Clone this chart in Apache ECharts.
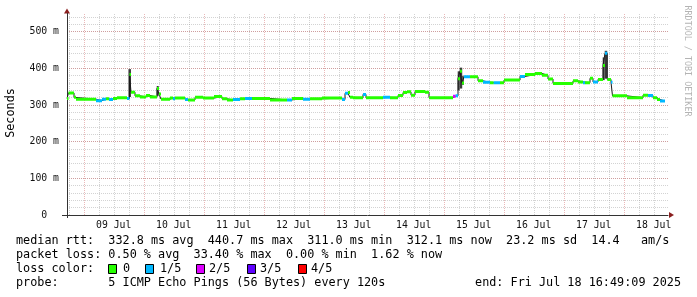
<!DOCTYPE html>
<html><head><meta charset="utf-8">
<script src="https://cdn.jsdelivr.net/npm/echarts@6/dist/echarts.min.js"></script>
<style>html,body{margin:0;padding:0;background:#fff}#c{width:697px;height:297px}</style>
</head><body><div id="c"></div>
<script>
// x values: hours since 2025-07-08 00:00 (start of each median step)
const stepHours = [17.32,17.92,20.12,20.92,28.92,31.32,32.92,34.12,35.72,37.32,
  41.32,42.32,42.92,44.52,46.52,48.92,50.52,53.32,54.12,54.92,
  58.52,59.72,60.52,64.52,65.72,68.52,71.72,76.12,79.32,81.32,
  83.72,86.52,88.52,91.32,98.52,105.32,107.32,111.72,114.52,119.32,
  127.32,128.52,129.72,130.52,131.72,135.72,136.92,143.72,146.52,149.72,
  151.72,153.32,154.92,156.52,160.52,162.12,171.72,172.72,173.72,174.52,
  175.32,176.12,178.5,181.72,183.72,186.5,188.0,190.52,192.12,198.52,
  200.52,204.52,207.32,209.72,211.72,219.72,221.72,223.72,224.5,226.52,
  227.72,229.72,231.72,232.52,233.44,234.92,235.52,241.32,247.72,249.72,
  251.72,253.32,254.52];
const endHour = 256.52;
// median rtt in ms
const medianMs = [318,333,321,316,312,316,317,315,318,320,
  318,383,335,325,322,326,322,345,330,316,
  319,317,319,315,314,321,319,323,317,314,
  315,317,318,318,314,314,318,316,317,319,
  315,332,334,321,320,329,320,321,320,326,
  334,336,327,337,335,320,324,325,372,392,
  360,377,377,366,362,361,361,361,368,378,
  383,386,381,371,359,366,363,361,361,373,
  363,370,408,441,370,362,325,320,327,326,
  320,315,311];
// loss level (0..4 of 5 pings)
const lossLevel = [0,0,0,0,1,1,0,1,0,0,
  1,0,0,0,0,0,0,0,0,0,
  0,1,0,1,0,0,0,0,0,0,
  1,0,1,0,0,1,0,1,0,0,
  1,1,0,0,0,1,0,1,0,0,
  0,0,0,0,0,0,2,1,0,0,
  0,1,0,0,1,0,1,0,0,1,
  0,0,0,0,0,0,0,1,0,0,
  1,0,0,1,0,1,0,0,0,1,
  0,0,1];
// smoke (spread of individual pings) around spikes
const smokeFrom = [41.9,53.2,173.6,174.4,175.4,231.6,232.4];
const smokeTo   = [42.9,54.0,174.4,175.4,176.0,232.4,233.4];
const smokeLow  = [322,325,340,345,355,368,372];
const smokeHigh = [398,352,392,402,380,430,448];

const lossColors = ['#26ff00','#00b8ff','#dd00ff','#5e00ff','#ff0000'];
const lossNames = ['0','1/5','2/5','3/5','4/5'];
const dayLabelHours = [36,60,84,108,132,156,180,204,228,252];
const dayLabels = ['09 Jul','10 Jul','11 Jul','12 Jul','13 Jul','14 Jul','15 Jul','16 Jul','17 Jul','18 Jul'];
const xMin = 17.32, xMax = 257.72, yMax = 550;

const legendLines = [
  'median rtt:  332.8 ms avg  440.7 ms max  311.0 ms min  312.1 ms now  23.2 ms sd  14.4   am/s',
  'packet loss: 0.50 % avg  33.40 % max  0.00 % min  1.62 % now',
  'loss color:',
  'probe:       5 ICMP Echo Pings (56 Bytes) every 120s'
];
const endText = 'end: Fri Jul 18 16:49:09 2025';

const MONO = '"DejaVu Sans Mono", monospace';
const GRAY_GRID = 'rgba(140,140,140,0.38)';
const RED_GRID = 'rgba(200,70,70,0.38)';
const chart = echarts.init(document.getElementById('c'), null, {renderer:'canvas'});

// vertical grid hours
const vGrid = [];
for (let h = 18; h < xMax; h += 6) vGrid.push(h);

// step line underlay
const stepData = stepHours.map((h,i)=>[h, medianMs[i]]);
stepData.push([endHour, medianMs[medianMs.length-1]]);

function segs(level){
  const out = [];
  for (let i=0;i<stepHours.length;i++){
    if (lossLevel[i] !== level) continue;
    const x1 = i+1 < stepHours.length ? stepHours[i+1] : endHour;
    out.push([stepHours[i], medianMs[i]], [x1, medianMs[i]], [x1, '-']);
  }
  return out;
}

const series = [
  {
    type:'custom', z:1, silent:true, animation:false,
    data: vGrid.map(h=>[h]),
    encode:{x:0},
    renderItem:(params, api)=>{
      const h = api.value(0);
      const p0 = api.coord([h, 0]);
      const p1 = api.coord([h, 540]);
      const x = Math.round(p0[0]) + 0.5;
      const major = Math.abs(h % 24) < 1e-6;
      return {type:'line', shape:{x1:x, y1:p0[1], x2:x, y2:p1[1]-3},
        style:{stroke: major ? RED_GRID : GRAY_GRID, lineWidth:1, lineDash:[1,1]}};
    }
  },
  {
    type:'custom', z:2, silent:true, animation:false,
    data: smokeFrom.map((h,i)=>[h, smokeTo[i], smokeLow[i], smokeHigh[i]]),
    encode:{x:[0,1], y:[2,3]},
    renderItem:(params, api)=>{
      const a = api.coord([api.value(0), api.value(3)]);
      const b = api.coord([api.value(1), api.value(2)]);
      return {type:'rect', shape:{x:a[0], y:a[1], width:b[0]-a[0], height:b[1]-a[1]},
        style:{fill:'#3a3a3a'}};
    }
  },
  {
    type:'line', z:3, step:'end', data: stepData, symbol:'none', silent:true, animation:false,
    lineStyle:{color:'#1a1a1a', width:1}
  }
];
for (let l=0;l<5;l++){
  series.push({type:'line', z:4, data: segs(l), symbol:'none', silent:true, animation:false,
    connectNulls:false, lineStyle:{color:lossColors[l], width:3, cap:'butt'}});
}

const graphic = [];
graphic.push({type:'text', x:11, y:113, rotation:Math.PI/2,
  style:{text:'Seconds', font:'11.8px '+MONO, fill:'#000', align:'center', verticalAlign:'middle'}});
graphic.push({type:'text', x:687, y:61, rotation:-Math.PI/2,
  style:{text:'RRDTOOL / TOBI OETIKER', font:'8.4px '+MONO, fill:'#b4b4b4', align:'center', verticalAlign:'middle'}});
const lineY = [241,255,269,283];
legendLines.forEach((t,i)=>{
  graphic.push({type:'text', x:16, y:lineY[i], style:{text:t, font:'11.8px '+MONO, fill:'#000', align:'left', verticalAlign:'middle'}});
});
graphic.push({type:'text', x:681, y:283, style:{text:endText, font:'11.8px '+MONO, fill:'#000', align:'right', verticalAlign:'middle'}});
const boxX = [108,145,196,247,298], labX = [123,160,209,260,311];
for (let l=0;l<5;l++){
  graphic.push({type:'rect', shape:{x:boxX[l]+0.5, y:264.5, width:8, height:9},
    style:{fill:lossColors[l], stroke:'#000', lineWidth:1}});
  graphic.push({type:'text', x:labX[l], y:269, style:{text:lossNames[l], font:'11.8px '+MONO, fill:'#000', align:'left', verticalAlign:'middle'}});
}
graphic.push({type:'polygon', shape:{points:[[67,8.5],[64,13.5],[70,13.5]]}, style:{fill:'#8a1f1f'}});
graphic.push({type:'polygon', shape:{points:[[674,215],[669,212],[669,218]]}, style:{fill:'#8a1f1f'}});
graphic.push({type:'line', shape:{x1:62, y1:215.5, x2:67, y2:215.5}, style:{stroke:'#333', lineWidth:1}});
graphic.push({type:'line', shape:{x1:67.5, y1:215, x2:67.5, y2:218}, style:{stroke:'#333', lineWidth:1}});

chart.setOption({
  backgroundColor:'#fff',
  animation:false,
  grid:{left:67, right:29, top:13.4, bottom:82, containLabel:false},
  xAxis:{
    type:'value', min:xMin, max:xMax,
    axisLine:{show:true, onZero:false, lineStyle:{color:'#333', width:1}},
    axisTick:{show:false},
    splitLine:{show:false},
    axisLabel:{customValues:dayLabelHours, margin:5, color:'#111', fontFamily:MONO, fontSize:9.8,
      formatter:(v)=>{const i=dayLabelHours.indexOf(Math.round(v)); return i>=0?dayLabels[i]:'';}}
  },
  yAxis:[
    {type:'value', position:'left', min:0, max:yMax, interval:20,
      axisLine:{show:false}, axisTick:{show:false}, axisLabel:{show:false},
      splitLine:{show:true, showMinLine:false, showMaxLine:false, lineStyle:{color:GRAY_GRID, type:[1,1], width:1}}},
    {type:'value', position:'left', min:0, max:yMax, interval:100,
      axisLine:{show:true, lineStyle:{color:'#333', width:1}}, axisTick:{show:false},
      axisLabel:{margin:8, color:'#111', fontFamily:MONO, fontSize:9.8,
        formatter:(v)=> v===0 ? '0  ' : (v>=yMax? '' : v+' m')},
      splitLine:{show:true, showMinLine:false, showMaxLine:false, lineStyle:{color:RED_GRID, type:[1,1], width:1}}}
  ],
  series: series,
  graphic: graphic
});
</script></body></html>
